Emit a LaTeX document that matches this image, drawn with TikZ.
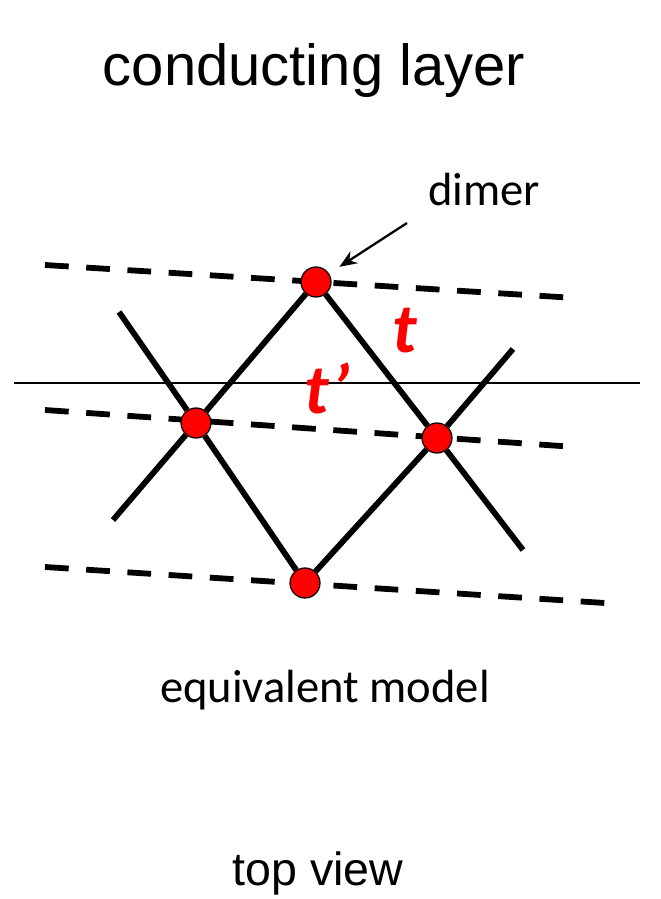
\documentclass[tikz,border=0pt]{standalone}
\usepackage{fontspec}
\setmainfont{Liberation Sans}
\newfontfamily\calibri{Carlito}
\usetikzlibrary{arrows.meta}
\begin{document}
\begin{tikzpicture}[
        x=0.02cm, y=-0.02cm,
        dimer dot/.style={
            circle,
            draw=black,
            fill=red,
            line width=0.7pt,
            minimum size=0.6cm,
            inner sep=0pt
        },
        bond/.style={line width=3.3pt},
        chain line/.style={
            line width=3.3pt,
            dash pattern=on 13.5pt off 10pt
        },
        hopping/.style={
            text=red,
            font=\calibri\bfseries\itshape\fontsize{40}{44}\selectfont,
            anchor=base
        },
        caption/.style={anchor=base, font=\fontsize{26.5}{32}\selectfont}
    ]
        \useasboundingbox (0,0) rectangle (660,899);

        \node[anchor=base, font=\fontsize{33}{40}\selectfont] (title) at (314,85)
            {conducting layer};
        \node[caption, font=\calibri\fontsize{26.5}{32}\selectfont] (dimerlabel) at (484,205)
            {dimer};
        \node[caption, font=\calibri\fontsize{26.5}{32}\selectfont] (model) at (325,702)
            {equivalent model};
        \node[caption] (view) at (318,885)
            {top view};

        \draw[line width=0.8pt] (14,383) -- (640,383);

        \coordinate (chain1 start) at (45,265);
        \coordinate (chain1 end) at (575,298);
        \coordinate (chain2 start) at (45,410);
        \coordinate (chain2 end) at (575,447);
        \coordinate (chain3 start) at (45,567);
        \coordinate (chain3 end) at (605,603);
        \draw[chain line] (chain1 start) -- (chain1 end);
        \draw[chain line] (chain2 start) -- (chain2 end);
        \draw[chain line] (chain3 start) -- (chain3 end);

        \node[dimer dot] (top) at (316,282) {};
        \node[dimer dot] (left) at (196,423) {};
        \node[dimer dot] (right) at (437,438) {};
        \node[dimer dot] (bottom) at (305,583) {};

        \coordinate (upper left) at (119,312);
        \coordinate (lower left) at (113,520);
        \coordinate (upper right) at (513,349);
        \coordinate (lower right) at (523,550);

        \draw[bond] (top) -- (left) -- (bottom) -- (right) -- (top);
        \draw[bond] (left) -- (upper left);
        \draw[bond] (left) -- (lower left);
        \draw[bond] (right) -- (upper right);
        \draw[bond] (right) -- (lower right);

        \node[hopping] (t) at (405,352) {t};
        \node[hopping] (tprime) at (327,413) {t’};

        \coordinate (arrow tail) at (407,223);
        \draw[-{Stealth[length=10pt, width=8pt]}, line width=1.3pt, shorten >=7pt]
            (arrow tail) -- (top);
    \end{tikzpicture}
\end{document}
